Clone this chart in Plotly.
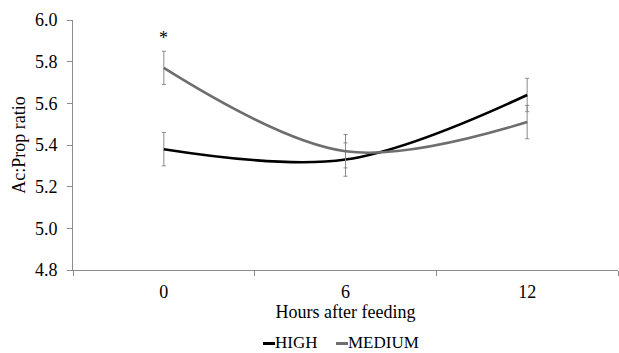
import plotly.graph_objects as go

hours = ["0", "6", "12"]
high = [5.38, 5.33, 5.64]
high_err = [0.08, 0.08, 0.08]
medium = [5.77, 5.37, 5.51]
medium_err = [0.08, 0.08, 0.08]
y_ticks = [4.8, 5.0, 5.2, 5.4, 5.6, 5.8, 6.0]

W, H = 619, 353
L, R, T, B = 73, 1, 20, 83
PW, PH = W - L - R, H - T - B

def px(x):
    return (x - L) / PW

def py(y):
    return (H - B - y) / PH

FONT = "Liberation Serif"
FS = 18
ERRC = "#8a8a8a"

fig = go.Figure()
fig.add_trace(go.Scatter(
    x=hours, y=high, name="HIGH", mode="lines",
    line=dict(color="#000000", width=2.6, shape="spline"),
    error_y=dict(type="data", array=high_err, color=ERRC, thickness=1, width=2),
    showlegend=False,
))
fig.add_trace(go.Scatter(
    x=hours, y=medium, name="MEDIUM", mode="lines",
    line=dict(color="#6e6e6e", width=2.6, shape="spline"),
    error_y=dict(type="data", array=medium_err, color=ERRC, thickness=1, width=2),
    showlegend=False,
))

fig.add_annotation(x="0", y=5.915, text="*", showarrow=False,
                   font=dict(family=FONT, size=FS, color="#000"), yanchor="middle")

# legend (custom, short swatches)
legend_items = [("HIGH", "#000000", 263), ("MEDIUM", "#6e6e6e", 336)]
shapes = []
for name, col, x0 in legend_items:
    shapes.append(dict(type="line", xref="paper", yref="paper",
                       x0=px(x0), x1=px(x0 + 12), y0=py(343.5), y1=py(343.5),
                       line=dict(color=col, width=3)))
    fig.add_annotation(xref="paper", yref="paper", x=px(x0 + 11), y=py(342.5),
                       text=name, showarrow=False, xanchor="left", yanchor="middle",
                       borderpad=0,
                       font=dict(family=FONT, size=17, color="#000"))

fig.update_layout(
    width=W, height=H,
    margin=dict(l=L, r=R, t=T, b=B),
    paper_bgcolor="white", plot_bgcolor="white",
    font=dict(family=FONT, size=FS, color="#000"),
    shapes=shapes,
    xaxis=dict(
        type="category", range=[-0.5, 2.5], tickson="boundaries",
        showline=True, linecolor="#8c8c8c", linewidth=1,
        ticks="outside", ticklen=5, tickcolor="#8c8c8c",
        showgrid=False, zeroline=False, ticklabelstandoff=5,
        tickfont=dict(family=FONT, size=FS, color="#000"),
        title=dict(text="Hours after feeding", standoff=4,
                   font=dict(family=FONT, size=FS, color="#000")),
    ),
    yaxis=dict(
        range=[4.8, 6.0], tickvals=y_ticks, tickformat=".1f",
        showline=True, linecolor="#8c8c8c", linewidth=1,
        ticks="outside", ticklen=5, tickcolor="#8c8c8c",
        showgrid=False, zeroline=False, ticklabelstandoff=6,
        tickfont=dict(family=FONT, size=FS, color="#000"),
        title=dict(text="Ac:Prop ratio", standoff=4,
                   font=dict(family=FONT, size=FS, color="#000")),
    ),
)

fig.write_html("out.html")
